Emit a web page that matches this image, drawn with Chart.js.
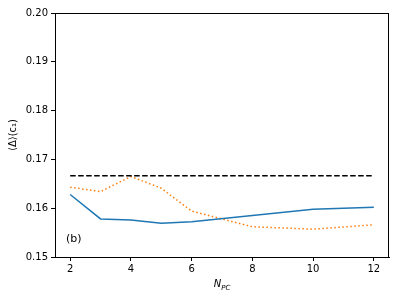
<!DOCTYPE html>
<html>
<head>
<meta charset="utf-8">
<script src="https://cdn.jsdelivr.net/npm/chart.js@4/dist/chart.umd.min.js"></script>
<style>
  html, body { margin: 0; padding: 0; background: #fff; }
  #wrap { width: 399px; height: 299px; }
</style>
</head>
<body>
<div id="wrap"><canvas id="chart" width="399" height="299"></canvas></div>
<script>
const nPC = [2, 3, 4, 5, 6, 8, 10, 12];
const blueVals = [0.1628, 0.1578, 0.1576, 0.1569, 0.1572, 0.1585, 0.1598, 0.1602];
const orangeVals = [0.1643, 0.1634, 0.1665, 0.1641, 0.1594, 0.1562, 0.1557, 0.1566];
const refVal = 0.16667;
const xTicks = [2, 4, 6, 8, 10, 12];

const pts = (vals) => nPC.map((x, i) => ({ x: x, y: vals[i] }));

// box around plot + axis titles with subscripts
const decor = {
  id: "decor",
  afterDraw(chart) {
    const { ctx, chartArea: a } = chart;
    ctx.save();
    ctx.strokeStyle = "#000";
    ctx.lineWidth = 1;
    ctx.strokeRect(a.left + 0.5, a.top + 0.5, a.right - a.left - 1, a.bottom - a.top);
    ctx.fillStyle = "#000";
    ctx.font = "11px 'DejaVu Sans'";
    ctx.textBaseline = "alphabetic";
    ctx.fillText("(b)", 66, 242);

    // x title: N_PC
    const cx = (a.left + a.right) / 2;
    ctx.font = "italic 10px 'DejaVu Sans'";
    const wN = ctx.measureText("N").width;
    ctx.font = "italic 7px 'DejaVu Sans'";
    const wS = ctx.measureText("PC").width;
    const x0 = cx - (wN + wS) / 2;
    ctx.font = "italic 10px 'DejaVu Sans'";
    ctx.fillText("N", x0, 287);
    ctx.font = "italic 7px 'DejaVu Sans'";
    ctx.fillText("PC", x0 + wN, 290);

    // y title
    ctx.translate(16, (a.top + a.bottom) / 2);
    ctx.rotate(-Math.PI / 2);
    ctx.font = "10px 'DejaVu Sans'";
    ctx.textAlign = "center";
    ctx.fillText("\u27E8\u0394\u27E9(c\u2081)", 0, 0);
    ctx.restore();
  }
};

new Chart(document.getElementById("chart"), {
  type: "line",
  data: {
    datasets: [
      {
        data: nPC.map((x) => ({ x: x, y: refVal })).filter((p, i) => i === 0 || i === nPC.length - 1),
        borderColor: "#000",
        borderWidth: 1.5,
        borderDash: [5.5, 2.5],
        pointRadius: 0,
        fill: false
      },
      {
        data: pts(blueVals),
        borderColor: "#1f77b4",
        borderWidth: 1.5,
        pointRadius: 0,
        fill: false
      },
      {
        data: pts(orangeVals),
        borderColor: "#ff7f0e",
        borderWidth: 1.5,
        borderDash: [1.5, 2.5],
        pointRadius: 0,
        fill: false
      }
    ]
  },
  plugins: [decor],
  options: {
    responsive: false,
    animation: false,
    layout: { padding: { top: 13, right: 10, left: 0, bottom: 0 } },
    plugins: { legend: { display: false }, tooltip: { enabled: false } },
    scales: {
      x: {
        type: "linear",
        min: 1.5,
        max: 12.5,
        afterBuildTicks: (s) => { s.ticks = xTicks.map((v) => ({ value: v })); },
        afterFit: (s) => { s.height = 42; },
        grid: { drawOnChartArea: false, tickLength: 4, color: "#000" },
        border: { display: true, color: "#000" },
        ticks: { color: "#000", padding: 2, maxRotation: 0, font: { family: "DejaVu Sans", size: 10 } }
      },
      y: {
        min: 0.15,
        max: 0.20,
        afterBuildTicks: (s) => { s.ticks = [0.15, 0.16, 0.17, 0.18, 0.19, 0.20].map((v) => ({ value: v })); },
        afterFit: (s) => { s.width = 55; },
        grid: { drawOnChartArea: false, tickLength: 4, color: "#000" },
        border: { display: true, color: "#000" },
        ticks: {
          color: "#000",
          padding: 3,
          font: { family: "DejaVu Sans", size: 10 },
          callback: (v) => v.toFixed(2)
        }
      }
    }
  }
});
</script>
</body>
</html>
